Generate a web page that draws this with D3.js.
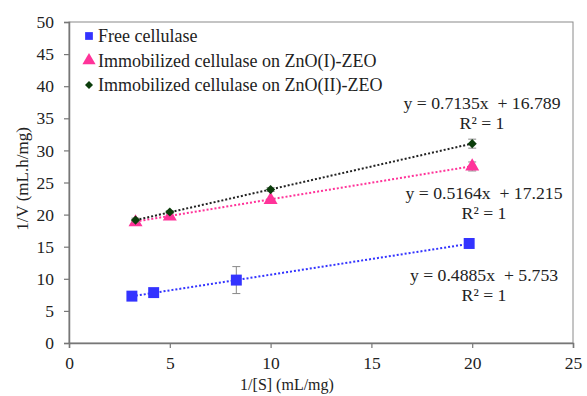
<!DOCTYPE html>
<html>
<head>
<meta charset="utf-8">
<script src="https://cdn.jsdelivr.net/npm/d3@7"></script>
<style>
  body { margin: 0; background: #fff; }
  text { font-family: "Liberation Serif", "Times New Roman", serif; fill: #222; }
</style>
</head>
<body>
<div id="chart"></div>
<script>
// data
const seriesNames = ["Free cellulase", "Immobilized cellulase on ZnO(I)-ZEO", "Immobilized cellulase on ZnO(II)-ZEO"];
const freeX = [3.12, 4.2, 8.3, 19.85];
const freeY = [7.3, 7.85, 9.8, 15.5];
const freeErr = [0.1, 0.45, 2.1, 0.2];
const zeo1X = [3.3, 5, 10, 20];
const zeo1Y = [18.8, 19.7, 22.3, 27.5];
const zeo1Err = [0.3, 0.2, 0.2, 0.7];
const zeo2X = [3.3, 5, 10, 20];
const zeo2Y = [19.15, 20.4, 23.9, 31.05];
const zeo2Err = [0.3, 0.2, 0.3, 0.7];
const slopes = [0.4885, 0.5164, 0.7135];
const intercepts = [5.753, 17.215, 16.789];
const equations = ["y = 0.4885x  + 5.753", "y = 0.5164x  + 17.215", "y = 0.7135x  + 16.789"];
const xTicks = [0, 5, 10, 15, 20, 25];
const yTicks = [0, 5, 10, 15, 20, 25, 30, 35, 40, 45, 50];

const W = 587, H = 396;
const margin = {top: 22, right: 14, bottom: 53, left: 69};
const width = W - margin.left - margin.right;
const height = H - margin.top - margin.bottom;

const svg = d3.select("#chart").append("svg")
    .attr("width", W)
    .attr("height", H);

const g = svg.append("g")
    .attr("transform", `translate(${margin.left},${margin.top})`);

const x = d3.scaleLinear().domain([0, 25]).range([0, width]);
const y = d3.scaleLinear().domain([0, 50]).range([height, 0]);

// plot box
g.append("rect")
    .attr("width", width).attr("height", height)
    .attr("fill", "none").attr("stroke", "#8a8a8a").attr("stroke-width", 1);

// axes
const xAxis = g.append("g")
    .attr("transform", `translate(0,${height})`)
    .call(d3.axisBottom(x).tickValues(xTicks).tickSize(5).tickPadding(9));
const yAxis = g.append("g")
    .call(d3.axisLeft(y).tickValues(yTicks).tickSize(5).tickPadding(10));

[xAxis, yAxis].forEach(a => {
    a.attr("font-family", null);
    a.select(".domain").attr("stroke", "#777").attr("stroke-width", 1.5);
    a.selectAll(".tick line").attr("stroke", "#777").attr("stroke-width", 1.2);
    a.selectAll(".tick text")
        .style("font-family", "'Liberation Serif', 'Times New Roman', serif")
        .style("font-size", "17.5px")
        .attr("fill", "#222");
});

// axis titles
svg.append("text")
    .attr("x", 287).attr("y", 390)
    .attr("text-anchor", "middle").attr("font-size", 16)
    .text("1/[S] (mL/mg)");
svg.append("text")
    .attr("transform", `translate(28,179) rotate(-90)`)
    .attr("text-anchor", "middle").attr("font-size", 17)
    .text("1/V (mL.h/mg)");

const series = [
    {xs: freeX, ys: freeY, err: freeErr, color: "#3333ff", symbol: d3.symbolSquare, size: 120, rot: 0},
    {xs: zeo1X, ys: zeo1Y, err: zeo1Err, color: "#ff3399", symbol: d3.symbolTriangle, size: 85, rot: 0},
    {xs: zeo2X, ys: zeo2Y, err: zeo2Err, color: "#0b3d0b", symbol: d3.symbolSquare, size: 42, rot: 45}
];
const trendColors = ["#3333ff", "#ff3399", "#222"];

// trendlines
series.forEach((s, i) => {
    const x0 = d3.min(s.xs), x1 = d3.max(s.xs);
    g.append("line")
        .attr("x1", x(x0)).attr("y1", y(slopes[i] * x0 + intercepts[i]))
        .attr("x2", x(x1)).attr("y2", y(slopes[i] * x1 + intercepts[i]))
        .attr("stroke", trendColors[i]).attr("stroke-width", 2)
        .attr("stroke-dasharray", "2,2");
});

// error bars and markers
series.forEach(s => {
    const pts = s.xs.map((v, k) => ({x: v, y: s.ys[k], e: s.err[k]}));
    const eb = g.append("g").attr("stroke", "#888").attr("stroke-width", 1);
    pts.forEach(p => {
        eb.append("line").attr("x1", x(p.x)).attr("x2", x(p.x))
            .attr("y1", y(p.y - p.e)).attr("y2", y(p.y + p.e));
        [p.y - p.e, p.y + p.e].forEach(v => {
            eb.append("line").attr("x1", x(p.x) - 4).attr("x2", x(p.x) + 4)
                .attr("y1", y(v)).attr("y2", y(v));
        });
    });
    g.selectAll(null).data(pts).enter().append("path")
        .attr("d", d3.symbol().type(s.symbol).size(s.size))
        .attr("transform", d => `translate(${x(d.x)},${y(d.y)}) rotate(${s.rot})`)
        .attr("fill", s.color);
});

// legend
const legend = svg.append("g").attr("transform", "translate(89,36)");
series.forEach((s, i) => {
    const row = legend.append("g").attr("transform", `translate(0,${i * 24.5})`);
    row.append("path")
        .attr("d", d3.symbol().type(s.symbol).size([60, 75, 32][i]))
        .attr("transform", `rotate(${s.rot})`)
        .attr("fill", s.color);
    row.append("text").attr("x", 9).attr("y", 6)
        .attr("font-size", 18).text(seriesNames[i]);
});

// equations
const eqPos = [[484, 281], [484, 199], [482, 109]];
equations.forEach((t, i) => {
    const lab = svg.append("text")
        .attr("x", eqPos[i][0]).attr("y", eqPos[i][1])
        .attr("text-anchor", "middle").attr("font-size", 17.7)
        .style("white-space", "pre");
    lab.append("tspan").attr("x", eqPos[i][0]).text(t);
    lab.append("tspan").attr("x", eqPos[i][0]).attr("dy", 20).text("R² = 1");
});
</script>
</body>
</html>
